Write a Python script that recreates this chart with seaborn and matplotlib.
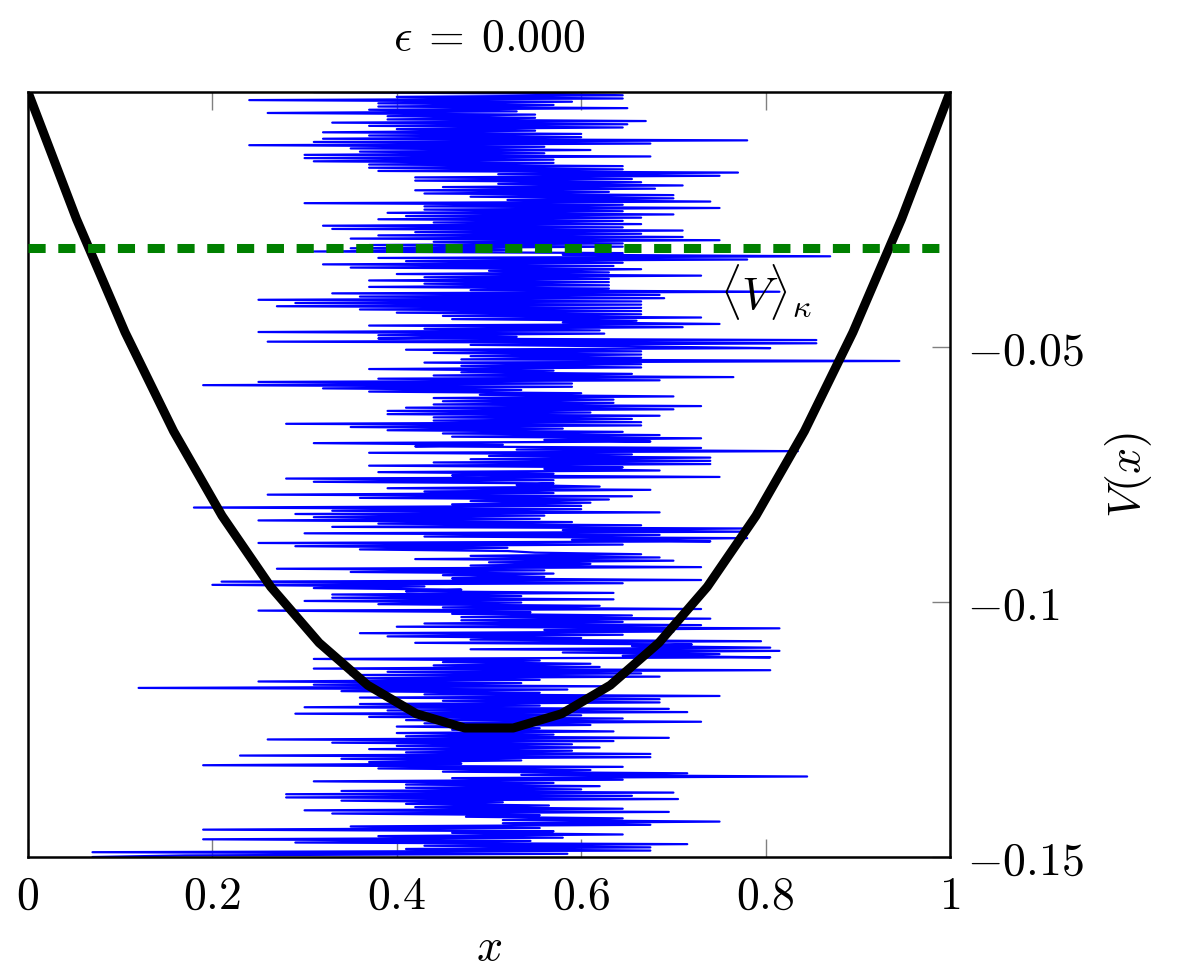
import numpy as np
import seaborn as sns
import matplotlib.pyplot as plt

# potential V(x) sampled at 20 points on [0, 1]
curve_x = [0.0, 0.0526, 0.1053, 0.1579, 0.2105, 0.2632, 0.3158, 0.3684, 0.4211, 0.4737,
           0.5263, 0.5789, 0.6316, 0.6842, 0.7368, 0.7895, 0.8421, 0.8947, 0.9474, 1.0]
curve_v = [0.0, -0.0249, -0.0471, -0.0665, -0.0831, -0.0970, -0.1080, -0.1163, -0.1219, -0.1247,
           -0.1247, -0.1219, -0.1163, -0.1080, -0.0970, -0.0831, -0.0665, -0.0471, -0.0249, 0.0]

mean_v = -0.0306  # <V>_kappa

# trajectory x(t) top to bottom
traj_x = [
    0.31, 0.55, 0.645, 0.40, 0.645, 0.24, 0.59, 0.38, 0.57, 0.38, 0.65, 0.37, 0.53, 0.26, 0.55, 0.39, 0.55,
    0.39, 0.67, 0.33, 0.65, 0.37, 0.645, 0.40, 0.55, 0.32, 0.60, 0.37, 0.60, 0.32, 0.78, 0.31, 0.675, 0.24,
    0.56, 0.35, 0.61, 0.36, 0.56, 0.30, 0.675,
    0.30, 0.57, 0.31, 0.57, 0.37, 0.645, 0.37, 0.645, 0.38, 0.77, 0.51, 0.75, 0.42, 0.655, 0.42, 0.665, 0.51,
    0.71, 0.45, 0.68, 0.42, 0.63, 0.43, 0.70, 0.48, 0.70, 0.52, 0.74, 0.30, 0.645, 0.43, 0.75, 0.43, 0.645,
    0.39, 0.70, 0.41, 0.665, 0.38, 0.645,
    0.44, 0.665, 0.32, 0.645, 0.33, 0.71, 0.42, 0.665, 0.38, 0.71, 0.35, 0.75, 0.44, 0.645, 0.37, 0.645,
    0.35, 0.53, 0.31, 0.645, 0.58, 0.87, 0.38, 0.78, 0.41, 0.645, 0.32, 0.635, 0.35, 0.665, 0.50, 0.63,
    0.40, 0.73, 0.43, 0.63, 0.37, 0.63,
    0.43, 0.63, 0.37, 0.63, 0.48, 0.815, 0.33, 0.685, 0.36, 0.69, 0.25, 0.665, 0.29, 0.665, 0.27, 0.665,
    0.36, 0.665, 0.40, 0.665, 0.45, 0.73, 0.46, 0.66, 0.58, 0.75, 0.37, 0.71, 0.43, 0.62, 0.25, 0.625,
    0.38, 0.53, 0.38, 0.855, 0.26, 0.855,
    0.48, 0.665, 0.805, 0.41, 0.665, 0.44, 0.665, 0.48, 0.665, 0.47, 0.945, 0.43, 0.665, 0.47, 0.665, 0.37,
    0.57, 0.47, 0.655, 0.44, 0.765, 0.38, 0.685, 0.25, 0.59, 0.19, 0.59, 0.32, 0.535, 0.37, 0.60, 0.49,
    0.70, 0.44, 0.635,
    0.45, 0.635, 0.44, 0.73, 0.41, 0.70, 0.39, 0.61, 0.39, 0.685, 0.44, 0.655, 0.44, 0.665, 0.28, 0.665,
    0.35, 0.58, 0.39, 0.645, 0.45, 0.685, 0.46, 0.73, 0.56, 0.675, 0.31, 0.515, 0.42, 0.73, 0.53, 0.835,
    0.37, 0.655, 0.50, 0.74, 0.48, 0.74,
    0.44, 0.74, 0.37, 0.645, 0.56, 0.685, 0.38, 0.57, 0.46, 0.75, 0.28, 0.57, 0.31, 0.57, 0.53, 0.62,
    0.39, 0.675, 0.43, 0.57, 0.26, 0.655, 0.36, 0.63, 0.48, 0.61, 0.46, 0.60, 0.18, 0.60, 0.33, 0.685,
    0.29, 0.56, 0.31, 0.555, 0.25, 0.59, 0.38, 0.665, 0.33, 0.78,
    0.58, 0.78, 0.30, 0.685, 0.43, 0.78, 0.59, 0.74, 0.25, 0.645, 0.29, 0.52, 0.36, 0.52, 0.55, 0.665,
    0.48, 0.685, 0.42, 0.70, 0.50, 0.61, 0.48, 0.73, 0.27, 0.56, 0.35, 0.57, 0.45, 0.56, 0.46, 0.73,
    0.21, 0.645, 0.20, 0.43, 0.31, 0.47, 0.41, 0.635, 0.33, 0.535,
    0.33, 0.635, 0.30, 0.535, 0.38, 0.62, 0.45, 0.73, 0.25, 0.545, 0.46, 0.655, 0.47, 0.74, 0.47, 0.645,
    0.43, 0.73, 0.40, 0.815, 0.56, 0.70, 0.36, 0.645, 0.39, 0.60, 0.48, 0.795, 0.42, 0.72, 0.655, 0.805,
    0.48, 0.815, 0.58, 0.75, 0.645, 0.805, 0.31, 0.555, 0.45, 0.61,
    0.44, 0.62, 0.31, 0.805, 0.39, 0.665, 0.35, 0.685, 0.36, 0.555, 0.25, 0.535, 0.31, 0.63, 0.12, 0.585,
    0.34, 0.555, 0.43, 0.75, 0.36, 0.685, 0.45, 0.685, 0.36, 0.555, 0.30, 0.695, 0.39, 0.715, 0.29, 0.60,
    0.37, 0.645, 0.41, 0.73, 0.43, 0.61,
    0.40, 0.555, 0.46, 0.635, 0.40, 0.57, 0.41, 0.695, 0.26, 0.635, 0.33, 0.59, 0.40, 0.62, 0.37, 0.59,
    0.41, 0.675, 0.23, 0.675, 0.34, 0.535, 0.37, 0.47, 0.19, 0.645, 0.38, 0.61, 0.45, 0.715, 0.535, 0.845,
    0.46, 0.645, 0.31, 0.57, 0.41, 0.62, 0.41, 0.60, 0.34, 0.70, 0.28, 0.655,
    0.28, 0.705, 0.34, 0.515, 0.41, 0.565, 0.42, 0.645, 0.30, 0.695, 0.33, 0.555, 0.475, 0.645, 0.515, 0.75,
    0.515, 0.675, 0.35, 0.555, 0.19, 0.57, 0.46, 0.645, 0.38, 0.58, 0.19, 0.545, 0.29, 0.715, 0.43, 0.675,
    0.41, 0.675, 0.07, 0.585, 0.17, 0.07,
]

x_ticks = [0, 0.2, 0.4, 0.6, 0.8, 1]
x_tick_labels = ["$0$", "$0.2$", "$0.4$", "$0.6$", "$0.8$", "$1$"]
y_ticks = [-0.15, -0.1, -0.05]
y_tick_labels = ["$-0.15$", "$-0.1$", "$-0.05$"]

sns.set_style("white")
plt.rcParams['mathtext.fontset'] = 'cm'
plt.rcParams['font.family'] = ['DejaVu Serif']
plt.rcParams['text.color'] = 'black'
plt.rcParams['axes.labelcolor'] = 'black'
plt.rcParams['xtick.labelcolor'] = 'black'
plt.rcParams['ytick.labelcolor'] = 'black'

fig, ax = plt.subplots(figsize=(12, 9.74), dpi=100)
fig.subplots_adjust(left=0.0233, right=0.7917, bottom=0.1201, top=0.9055)

# time axis runs along V, evenly spaced from top to bottom
traj_t = np.linspace(0.0, -0.15, len(traj_x))
sns.lineplot(x=traj_x, y=traj_t, sort=False, estimator=None, color="blue", lw=1.6, ax=ax, zorder=2)
sns.lineplot(x=curve_x, y=curve_v, sort=False, estimator=None, color="black", lw=6.5, ax=ax, zorder=3)
ax.axhline(mean_v, color="green", lw=6.5, dashes=(1.9, 1.4), zorder=4)

ax.text(0.80, -0.0392, r"$\langle V\rangle_\kappa$", fontsize=33, ha="center", va="center")

ax.set_xlim(0, 1)
ax.set_ylim(-0.15, 0)
ax.set_xticks(x_ticks)
ax.set_xticklabels(x_tick_labels)
ax.set_yticks(y_ticks)
ax.set_yticklabels(y_tick_labels)
ax.yaxis.tick_right()
ax.yaxis.set_label_position("right")
ax.tick_params(axis="x", direction="in", length=13, width=1, color="grey", top=True, bottom=True,
               labelsize=33, pad=12)
ax.tick_params(axis="y", direction="in", length=13, width=1, color="grey", left=False, right=True,
               labelsize=33, pad=12)

for s in ax.spines.values():
    s.set_linewidth(1.8)
    s.set_color("black")

ax.set_title(r"$\epsilon\:=\:0.000$", fontsize=33, pad=30)
ax.set_xlabel("$x$", fontsize=33, labelpad=4)
ax.set_ylabel("$V(x)$", fontsize=33, labelpad=14)

plt.savefig("out.png")
